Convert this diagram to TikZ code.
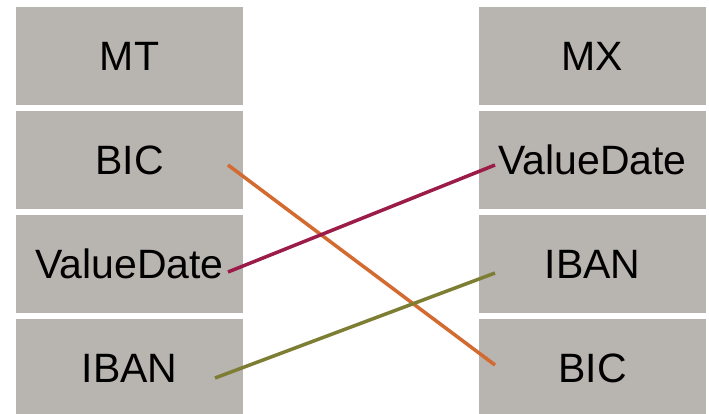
\documentclass[tikz,border=0pt]{standalone}
\usepackage{fontspec}
\setmainfont{Liberation Sans}
\definecolor{boxgray}{RGB}{184,180,176}
\definecolor{bicorange}{RGB}{211,106,48}
\definecolor{datered}{RGB}{155,28,72}
\definecolor{ibanolive}{RGB}{126,125,52}

\begin{document}
\begin{tikzpicture}[x=1pt, y=-1pt,
    field/.style={rectangle, fill=boxgray, inner sep=0pt, minimum width=227pt, minimum height=98pt,
                  text height=29.5pt, text depth=0pt, font=\fontsize{41}{49}\selectfont},
    link/.style={line width=3.5pt}]
    \clip (0,0) rectangle (709,413);

    % MT side
    \node[field] (mt)    at (129.5,56)    {MT};
    \node[field] (bicL)  at (129.5,159.5) {BIC};
    \node[field] (vdL)   at (129.5,264)   {ValueDate};
    \node[field] (ibanL) at (129.5,368)   {IBAN};

    % MX side
    \node[field] (mx)    at (592.5,56)    {MX};
    \node[field] (vdR)   at (592.5,159.5) {ValueDate};
    \node[field] (ibanR) at (592.5,264)   {IBAN};
    \node[field] (bicR)  at (592.5,368)   {BIC};

    \coordinate (bicL-out)  at (228,165);
    \coordinate (vdL-out)   at (228,272);
    \coordinate (ibanL-out) at (215,378);
    \coordinate (vdR-in)    at (495,165);
    \coordinate (ibanR-in)  at (495,273);
    \coordinate (bicR-in)   at (495,365);

    \draw[link, bicorange] (bicL-out) -- (bicR-in);
    \draw[link, datered]   (vdL-out) -- (vdR-in);
    \draw[link, ibanolive] (ibanL-out) -- (ibanR-in);
  \end{tikzpicture}
\end{document}
